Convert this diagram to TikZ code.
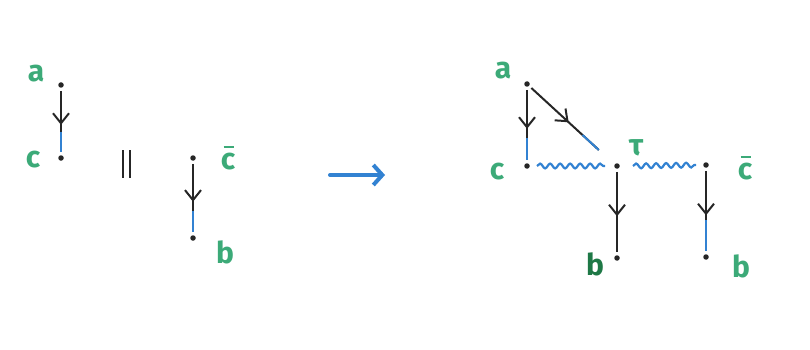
\documentclass[tikz,border=0pt]{standalone}
\usepackage{fontspec}
\setmainfont{Fira Sans}
\usetikzlibrary{decorations.pathmorphing,decorations.markings,arrows.meta,calc}
\definecolor{lblgreen}{RGB}{60,170,120}
\definecolor{dkgreen}{RGB}{30,120,70}
\definecolor{penblue}{RGB}{50,130,210}
\begin{document}
\begin{tikzpicture}[x=1pt,y=-1pt,
  pt/.style={circle,fill=black!85,inner sep=0pt,minimum size=5.5pt},
  lbl/.style={text=lblgreen,font=\fontsize{30}{32}\selectfont\bfseries,inner sep=0pt},
  barline/.style={draw=lblgreen,line width=2pt},
  prop/.style={draw=black!85,line width=2pt,shorten <=3pt,shorten >=3pt,
    postaction={decorate},decoration={markings,
      mark=at position 0.55 with {\arrow{Straight Barb[length=10pt,width=16pt,line width=2pt]}}}},
  tail/.style={draw=penblue,line width=2pt,shorten >=3pt},
  wavy/.style={draw=penblue,line width=2.2pt,decorate,
    decoration={snake,amplitude=2.4pt,segment length=10pt}}]
\useasboundingbox (0,0) rectangle (810,350);
% left
\node[pt] (a1) at (61,85) {};
\node[pt] (c1) at (61,158) {};
\node[lbl] (la1) at (36,74) {a};
\node[lbl] (lc1) at (33,160) {c};
\draw[prop] (a1) -- (c1);
\draw[tail] ($(a1)!0.64!(c1)$) -- (c1);
\node[inner sep=0pt] (eq) at (126,164) {\tikz[x=1pt,y=-1pt]{\draw[line width=2pt,black!85] (0,0)--(0,28) (7,0)--(7,28);}};
\node[pt] (cb1) at (193,158) {};
\node[pt] (b1) at (193,238) {};
\node[lbl] (lcb1) at (228,162) {c};
\draw[barline] ([yshift=6pt]lcb1.north west) ++(3pt,0) -- ++(10pt,0);
\node[lbl] (lb1) at (225,252) {b};
\draw[prop] (cb1) -- (b1);
\draw[tail] ($(cb1)!0.66!(b1)$) -- (b1);
% big arrow
\coordinate (s) at (330,175);
\coordinate (e) at (385,175);
\draw[penblue,line width=4pt,line cap=round,-{Straight Barb[length=9pt,width=20pt,line width=4pt]}] (s) -- (e);
% right
\node[pt] (a2) at (527,84) {};
\node[lbl] (la2) at (503,71) {a};
\node[pt] (c2) at (527,166) {};
\node[lbl] (lc2) at (497,172) {c};
\node[pt] (t2) at (617,166) {};
\node[lbl] (lt2) at (636,148) {τ};
\node[pt] (cb2) at (706,165) {};
\node[lbl] (lcb2) at (745,172) {c};
\draw[barline] ([yshift=6pt]lcb2.north west) ++(3pt,0) -- ++(10pt,0);
\node[pt] (b2) at (617,258) {};
\node[text=dkgreen,font=\fontsize{30}{32}\selectfont\bfseries,inner sep=0pt] (lb2) at (595,264) {b};
\node[pt] (b3) at (706,257) {};
\node[lbl] (lb3) at (741,266) {b};
\draw[prop] (a2) -- (c2);
\draw[tail] ($(a2)!0.66!(c2)$) -- (c2);
\coordinate (dend) at (601,152);
\draw[prop] (a2) -- (dend);
\draw[tail] ($(a2)!0.75!(dend)$) -- (dend);
\draw[prop] (t2) -- (b2);
\draw[prop] (cb2) -- (b3);
\draw[tail] ($(cb2)!0.6!(b3)$) -- (b3);
\draw[wavy] ([xshift=10pt]c2.center) -- ([xshift=-12pt]t2.center);
\draw[wavy] ([xshift=16pt]t2.center) -- ([xshift=-10pt]cb2.center);
\end{tikzpicture}
\end{document}
